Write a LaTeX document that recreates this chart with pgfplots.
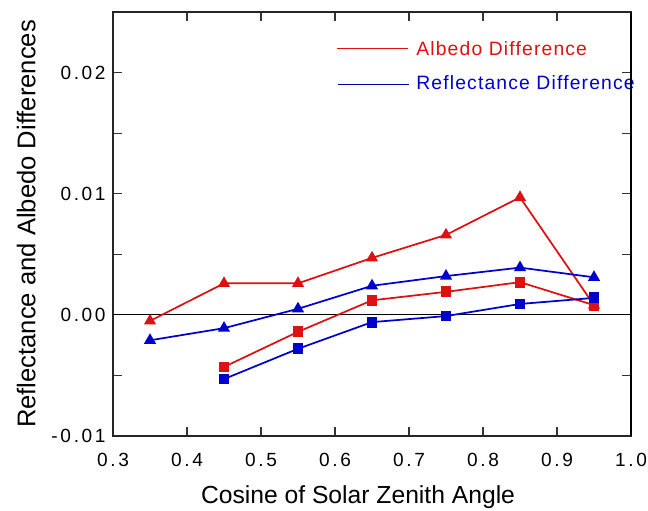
\documentclass[border=0pt]{standalone}
\usepackage{fontspec}
\setmainfont{Liberation Sans}
\newfontfamily\tickfont[LetterSpace=14]{Liberation Sans}
\newfontfamily\legfont[LetterSpace=6]{Liberation Sans}
\usepackage{pgfplots}
\pgfplotsset{compat=1.18}
\usetikzlibrary{calc}

\definecolor{cred}{RGB}{221,17,17}
\definecolor{cblue}{RGB}{0,0,204}

\begin{document}
\begin{tikzpicture}
\begin{axis}[
  width=388.5pt, height=318pt, scale only axis,
  xmin=0.3, xmax=1.0, ymin=-0.01, ymax=0.025,
  clip=false,
  xtick={0.3,0.4,0.5,0.6,0.7,0.8,0.9,1.0},
  xticklabels={0.3,0.4,0.5,0.6,0.7,0.8,0.9,1.0},
  ytick={-0.01,-0.005,0,0.005,0.01,0.015,0.02},
  yticklabels={-0.01,,0.00,,0.01,,0.02},
  tick align=inside,
  major tick length=6.5pt,
  tick style={black!80, line width=0.8pt},
  axis line style={black!85, line width=0.9pt},
  ticklabel style={font=\tickfont\fontsize{14.3}{16}\selectfont},
  xticklabel style={yshift=-9pt},
  yticklabel style={xshift=-2pt},
  xlabel={Cosine of Solar Zenith Angle},
  ylabel={Reflectance and Albedo Differences},
  label style={font=\fontsize{18.5}{21}\selectfont},
  xlabel style={at={(axis description cs:0.473,0)}, anchor=center, yshift=-46pt},
  ylabel style={at={(axis description cs:0,0.5)}, anchor=center, rotate=0, yshift=65pt,
    font=\fontsize{19.2}{22}\selectfont},
]
\coordinate (bl) at (rel axis cs:0,0);
\coordinate (tr) at (rel axis cs:1,1);

% zero line
\addplot[black, line width=0.8pt] coordinates {(0.3,0) (1.0,0)};

% albedo difference, triangles
\addplot[cred, line width=1.3pt, mark=triangle*, mark size=4pt, mark options={solid}]
  coordinates {(0.35,-0.0005) (0.45,0.0026) (0.55,0.0026) (0.65,0.0047) (0.75,0.0066) (0.85,0.0097) (0.95,0.0008)};
% albedo difference, squares
\addplot[cred, line width=1.3pt, mark=square*, mark size=3.4pt]
  coordinates {(0.45,-0.0043) (0.55,-0.0014) (0.65,0.0012) (0.75,0.0019) (0.85,0.0027) (0.95,0.0008)};
% reflectance difference, triangles
\addplot[cblue, line width=1.3pt, mark=triangle*, mark size=4pt]
  coordinates {(0.35,-0.0021) (0.45,-0.0011) (0.55,0.0005) (0.65,0.0024) (0.75,0.0032) (0.85,0.0039) (0.95,0.0031)};
% reflectance difference, squares
\addplot[cblue, line width=1.3pt, mark=square*, mark size=3.4pt]
  coordinates {(0.45,-0.0053) (0.55,-0.0028) (0.65,-0.0006) (0.75,-0.0001) (0.85,0.0009) (0.95,0.0014)};

% legend
\draw[cred, line width=0.9pt] (axis cs:0.6027,0.0220) -- (axis cs:0.6986,0.0220);
\node[anchor=west, inner sep=0pt, text=cred, font=\legfont\fontsize{14.5}{16}\selectfont]
  at (axis cs:0.7095,0.0220) {Albedo Difference};
\draw[cblue!80!black, line width=0.9pt] (axis cs:0.6040,0.0190) -- (axis cs:0.7000,0.0190);
\node[anchor=west, inner sep=0pt, text=cblue, font=\legfont\fontsize{14.5}{16}\selectfont]
  at (axis cs:0.7095,0.0192) {Reflectance Difference};

% heavy right border
\draw[black, line width=2.2pt] (rel axis cs:1,0) -- (rel axis cs:1,1);
\end{axis}
\pgfresetboundingbox
\path ($(bl)+(-84.75pt,-55.5pt)$) rectangle ($(tr)+(12.75pt,9pt)$);
\end{tikzpicture}
\end{document}
